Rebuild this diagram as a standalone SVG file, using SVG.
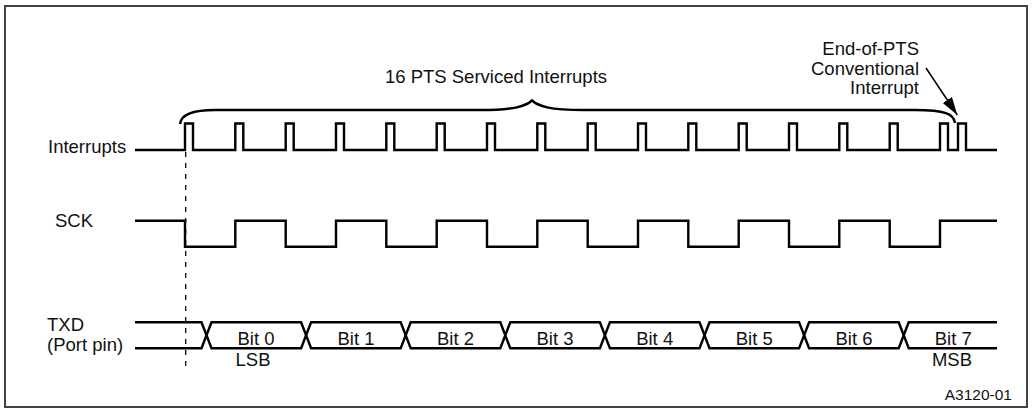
<svg xmlns="http://www.w3.org/2000/svg" width="1033" height="413" viewBox="0 0 1033 413">
<defs>
<style>
.t{font-family:"Liberation Sans",Arial,sans-serif;font-size:18.5px;fill:#111}
.s{font-family:"Liberation Sans",Arial,sans-serif;font-size:15.5px;fill:#111}
.w{fill:none;stroke:#000;stroke-width:2.4;stroke-linejoin:miter}
</style>
<marker id="ah" markerUnits="userSpaceOnUse" markerWidth="20" markerHeight="12" refX="18" refY="5.5" orient="auto">
<path d="M0,0 L18,5.5 L0,11 Z" fill="#000"/>
</marker>
</defs>
<rect x="5" y="6" width="1022" height="401" fill="#fff" stroke="#444" stroke-width="2"/>
<g id="labels">
<text class="t" x="48" y="153">Interrupts</text>
<text class="t" x="55" y="227">SCK</text>
<text class="t" x="47" y="331">TXD</text>
<text class="t" x="47" y="351">(Port pin)</text>
<text class="t" x="496" y="83" text-anchor="middle">16 PTS Serviced Interrupts</text>
<text class="t" x="919" y="55" text-anchor="end">End-of-PTS</text>
<text class="t" x="919" y="74.5" text-anchor="end">Conventional</text>
<text class="t" x="919" y="94" text-anchor="end">Interrupt</text>
<text class="s" x="1012" y="400" text-anchor="end">A3120-01</text>
</g>
<g id="interrupts">
<path class="w" d="M135,150 H185 V123.5 H193 V150 H235.3 V123.5 H243.3 V150 H285.7 V123.5 H293.7 V150 H336 V123.5 H344 V150 H386.3 V123.5 H394.3 V150 H436.7 V123.5 H444.7 V150 H487 V123.5 H495 V150 H537.3 V123.5 H545.3 V150 H587.7 V123.5 H595.7 V150 H638 V123.5 H646 V150 H688.3 V123.5 H696.3 V150 H738.7 V123.5 H746.7 V150 H789 V123.5 H797 V150 H839.3 V123.5 H847.3 V150 H889.7 V123.5 H897.7 V150 H940 V123.5 H948 V150 H958 V123.5 H966 V150 H997"/>
</g>
<g id="sck">
<path class="w" d="M135,220.7 H185 V246.7 H235.3 V220.7 H285.7 V246.7 H336 V220.7 H386.3 V246.7 H436.7 V220.7 H487 V246.7 H537.3 V220.7 H587.7 V246.7 H638 V220.7 H688.3 V246.7 H738.7 V220.7 H789 V246.7 H839.3 V220.7 H889.7 V246.7 H940 V220.7 H997"/>
</g>
<g id="txd">
<path class="w" d="M135,322.3 H201.5 L211.5,348.3 H301.1 L311.1,322.3 H400.7 L410.7,348.3 H500.3 L510.3,322.3 H599.9 L609.9,348.3 H699.5 L709.5,322.3 H799.1 L809.1,348.3 H898.7 L908.7,322.3 H997"/>
<path class="w" d="M135,348.3 H201.5 L211.5,322.3 H301.1 L311.1,348.3 H400.7 L410.7,322.3 H500.3 L510.3,348.3 H599.9 L609.9,322.3 H699.5 L709.5,348.3 H799.1 L809.1,322.3 H898.7 L908.7,348.3 H997"/>
<text class="t" x="256" y="344.5" text-anchor="middle">Bit 0</text>
<text class="t" x="356" y="344.5" text-anchor="middle">Bit 1</text>
<text class="t" x="455.5" y="344.5" text-anchor="middle">Bit 2</text>
<text class="t" x="555" y="344.5" text-anchor="middle">Bit 3</text>
<text class="t" x="654.7" y="344.5" text-anchor="middle">Bit 4</text>
<text class="t" x="754.3" y="344.5" text-anchor="middle">Bit 5</text>
<text class="t" x="854" y="344.5" text-anchor="middle">Bit 6</text>
<text class="t" x="953.3" y="344.5" text-anchor="middle">Bit 7</text>
<text class="t" x="253" y="366" text-anchor="middle">LSB</text>
<text class="t" x="952" y="366" text-anchor="middle">MSB</text>
</g>
<g id="connectors">
<line x1="185.7" y1="152" x2="185.7" y2="366" stroke="#000" stroke-width="1.3" stroke-dasharray="5 6"/>
<path class="w" d="M180,124 C181,115 192,110 215,110 L480,110 C515,110 526,106 532,100.5 C538,106 549,110 584,110 L915,110 C945,110 954,114 955,123"/>
<line x1="926" y1="68" x2="957.3" y2="115" stroke="#000" stroke-width="1.5" marker-end="url(#ah)"/>
</g>
</svg>
